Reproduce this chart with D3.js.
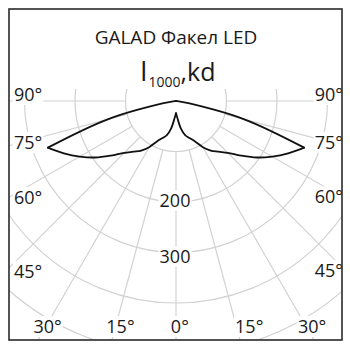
<!DOCTYPE html>
<html><head><meta charset="utf-8">
<script src="https://cdn.jsdelivr.net/npm/d3@7"></script>
<style>html,body{margin:0;padding:0;background:#fff;}svg{display:block;}</style>
</head><body><svg id="c" width="350" height="350"></svg>
<script>
// ---- data ----
const title = "GALAD Факел LED";
const curveAngles = [0,5,10,15,20,25,30,35,40,45,50,55,60,65,70,75,80,85,90];
const intensityLeft  = [24,35,55,70,78,88,105,120,131,145,168,195,220,245,270,140,25,3,0];
const intensityRight = [24,35,55,70,78,88,105,120,131,145,168,195,220,245,270,140,25,3,0];
const peakAngle = 70;
const ringValues = [100,200,300,400,500,600];
const ringLabels = [200,300];
const spokeAngles = [-90,-75,-60,-45,-30,-15,0,15,30,45,60,75,90];
const angleLabels = [90,75,60,45,30,15,0];

// ---- layout ----
const W = 350, H = 350;
const frame = {x0: 9, y0: 9, x1: 342, y1: 340};
const cx = 176, cy = 101;
const gridTop = 89;
const font = "'Open Sans', 'Noto Sans', sans-serif";
const ink = "#1a1a1a";

const svg = d3.select("#c");
const r = d3.scaleLinear().domain([0, 100]).range([0, 50.5]);
const rad = d => d * Math.PI / 180;

const defs = svg.append("defs");
defs.append("clipPath").attr("id","gridclip").append("rect")
  .attr("x", frame.x0).attr("y", gridTop)
  .attr("width", frame.x1 - frame.x0).attr("height", frame.y1 - gridTop);
defs.append("clipPath").attr("id","frameclip").append("rect")
  .attr("x", frame.x0).attr("y", frame.y0)
  .attr("width", frame.x1 - frame.x0).attr("height", frame.y1 - frame.y0);

svg.append("rect").attr("width", W).attr("height", H).attr("fill", "#fff");

const grid = svg.append("g").attr("clip-path","url(#gridclip)")
  .append("g")
  .attr("transform", `translate(${cx},${cy})`)
  .attr("stroke", "#d2d2d2").attr("stroke-width", 1.2).attr("fill","none");

grid.selectAll("circle").data(ringValues).join("circle").attr("r", d => r(d));

const rMin = r(ringValues[0]), rMax = r(800);
grid.selectAll("line").data(spokeAngles).join("line")
  .attr("x1", d => rMin * Math.sin(rad(d))).attr("y1", d => rMin * Math.cos(rad(d)))
  .attr("x2", d => rMax * Math.sin(rad(d))).attr("y2", d => rMax * Math.cos(rad(d)));

// ---- curve: four smooth pieces meeting at the sharp peak and the cusp ----
function side(vals, sign) {
  return curveAngles.map((a, i) => ({a: sign * a, v: vals[i]}));
}
const L = side(intensityLeft, -1), R = side(intensityRight, 1);
const pieces = [
  L.filter(d => -d.a <= peakAngle), L.filter(d => -d.a >= peakAngle),
  R.filter(d => d.a <= peakAngle),  R.filter(d => d.a >= peakAngle)
];
const line = d3.lineRadial()
  .angle(d => Math.PI - rad(d.a))
  .radius(d => r(d.v))
  .curve(d3.curveCatmullRom.alpha(0.5));
svg.append("g").attr("transform", `translate(${cx},${cy})`)
  .selectAll("path").data(pieces).join("path")
  .attr("d", d => line(d)).attr("fill","none")
  .attr("stroke", "#111").attr("stroke-width", 1.8)
  .attr("stroke-linejoin","round").attr("stroke-linecap","round");

// ---- labels with white background ----
const lab = svg.append("g").attr("clip-path","url(#frameclip)");
function boxedText(x, y, txt, anchor, size) {
  const g = lab.append("g");
  const bg = g.append("rect").attr("fill", "#fff");
  const t = g.append("text").attr("x", x).attr("y", y).attr("text-anchor", anchor)
    .attr("font-family", font).attr("font-size", size).attr("fill", ink).text(txt);
  const b = t.node().getBBox();
  bg.attr("x", b.x - 1).attr("y", b.y + 2).attr("width", b.width + 2).attr("height", b.height - 3);
  return t;
}

// ring value labels along 0°
ringLabels.forEach(v => {
  const off = 5 + (v - 200) * 0.055;
  boxedText(cx - 1, cy + r(v) + off, String(v), "middle", 18);
});

// angle labels where spokes meet the frame
angleLabels.forEach(a => {
  [-1, 1].forEach(sd => {
    if (a === 0 && sd === 1) return;
    const s = Math.sin(rad(a)), c = Math.cos(rad(a));
    const txt = a + "°";
    const xEdge = sd < 0 ? frame.x0 : frame.x1;
    const tSide = s > 1e-6 ? Math.abs(xEdge - cx) / s : Infinity;
    const tBot = (frame.y1 - cy) / c;
    if (tSide < tBot) {
      const yHit = cy + tSide * c;
      const yc = yHit + (60 - a) * 0.22;
      if (sd < 0) boxedText(14, yc + 6.5, txt, "start", 18);
      else boxedText(343, yc + 6.5, txt, "end", 18);
    } else {
      let xr = cx + sd * (330 - cy) * Math.tan(rad(a));
      if (a === 15) xr += sd > 0 ? 8 : 2;
      const numW = String(a).length * 0.572 * 18;
      boxedText(xr - numW / 2, 333, txt, "start", 18);
    }
  });
});

// ---- title and unit ----
svg.append("text").attr("x", 176).attr("y", 44).attr("text-anchor","middle")
  .attr("font-family", font).attr("font-size", 19).attr("fill", ink).text(title);
const unit = svg.append("text").attr("x", 140).attr("y", 81)
  .attr("font-family", font).attr("font-size", 27).attr("fill", ink);
unit.append("tspan").text("I");
unit.append("tspan").attr("font-size", 14).attr("dy", 6).attr("dx", 1).text("1000");
unit.append("tspan").attr("dy", -6).attr("font-size", 25).text(",kd");

// ---- frame ----
svg.append("rect").attr("x", frame.x0).attr("y", frame.y0)
  .attr("width", frame.x1 - frame.x0).attr("height", frame.y1 - frame.y0)
  .attr("fill","none").attr("stroke", "#2a2a2a").attr("stroke-width", 1.6);
</script></body></html>
